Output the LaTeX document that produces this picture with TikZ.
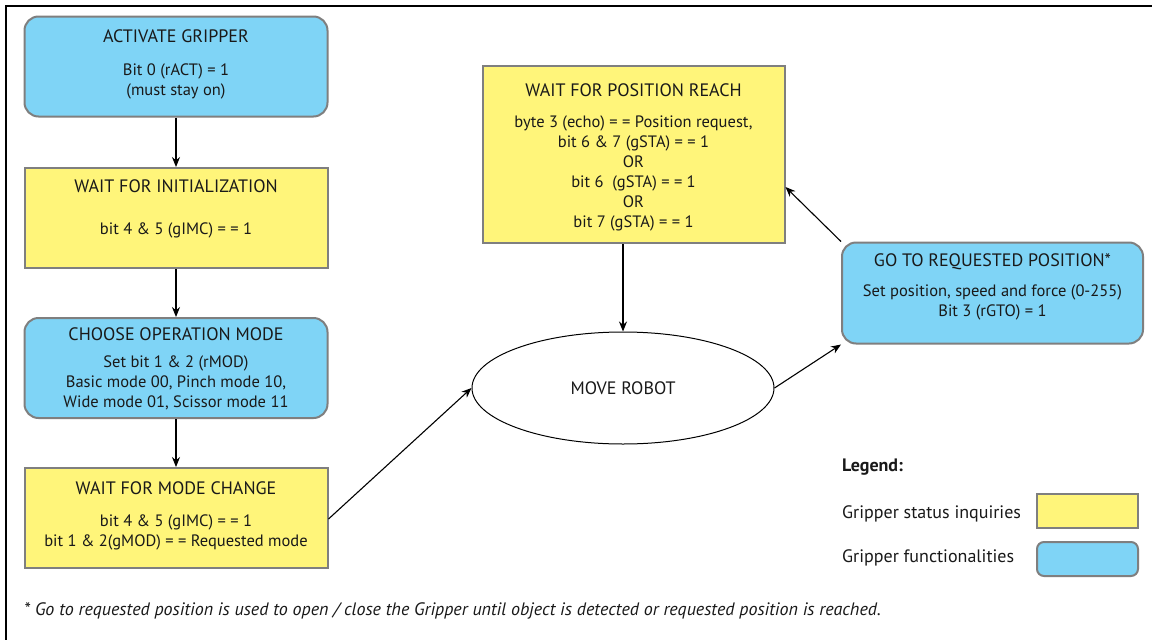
\documentclass[tikz,border=0pt]{standalone}
\usepackage{fontspec}
\setmainfont{PT Sans}
\usetikzlibrary{arrows.meta,shapes.geometric}
\definecolor{fblue}{HTML}{7FD4F6}
\definecolor{fyellow}{HTML}{FFF57A}
\definecolor{fgray}{HTML}{7F7F7F}
\tikzset{
  every node/.style={font=\fontsize{16.5}{20}\selectfont, text=black!90, inner sep=0pt},
  funcbox/.style={draw=fgray, line width=2pt, fill=fblue, rounded corners=14pt},
  statbox/.style={draw=fgray, line width=2pt, fill=fyellow},
  ttl/.style={anchor=center, font=\fontsize{18}{20}\selectfont},
  bdy/.style={align=center, anchor=center},
  conn/.style={line width=1.1pt, -{Stealth[length=10pt,width=8pt]}},
}
\begin{document}
\begin{tikzpicture}[x=1pt,y=-1pt]
\useasboundingbox (0,0) rectangle (1152,640);
\fill[white] (0,0) rectangle (1152,640);
\draw[line width=2pt] (6,640) -- (6,6) -- (1152,6);

% boxes
\node[funcbox, minimum width=303pt, minimum height=100pt] (act) at (176,66.5) {};
\node[statbox, minimum width=303pt, minimum height=100pt] (init) at (176,218) {};
\node[funcbox, minimum width=303pt, minimum height=100pt] (mode) at (176,368) {};
\node[statbox, minimum width=303pt, minimum height=100pt] (chg) at (176,518) {};
\node[statbox, minimum width=302pt, minimum height=177pt] (reach) at (633.5,154.5) {};
\node[funcbox, minimum width=301pt, minimum height=101pt] (goto) at (992.5,293) {};
\node[draw, line width=1pt, ellipse, minimum width=302pt, minimum height=112pt] (robot) at (623,388) {};

% texts
\node[ttl] (actT) at (176,36) {ACTIVATE GRIPPER};
\node[bdy] (actB) at (176,81) {Bit 0 (rACT) = 1\\(must stay on)};
\node[ttl] (initT) at (176,186) {WAIT FOR INITIALIZATION};
\node[bdy] (initB) at (176,230) {bit 4 \& 5 (gIMC) = = 1};
\node[ttl] (modeT) at (176,334) {CHOOSE OPERATION MODE};
\node[bdy] (modeB) at (176,383) {Set bit 1 \& 2 (rMOD)\\Basic mode 00, Pinch mode 10,\\Wide mode 01, Scissor mode 11};
\node[ttl] (chgT) at (176,488) {WAIT FOR MODE CHANGE};
\node[bdy] (chgB) at (176,532) {bit 4 \& 5 (gIMC) = = 1\\bit 1 \& 2(gMOD) = = Requested mode};
\node[ttl] (reachT) at (633.5,90) {WAIT FOR POSITION REACH};
\node[bdy] (reachB) at (633.5,173) {byte 3 (echo) = = Position request,\\bit 6 \& 7 (gSTA) = = 1\\OR\\bit 6\ \ (gSTA) = = 1\\OR\\bit 7 (gSTA) = = 1};
\node[ttl] (gotoT) at (992.5,262) {GO TO REQUESTED POSITION*};
\node[bdy] (gotoB) at (992.5,302.5) {Set position, speed and force (0-255)\\Bit 3 (rGTO) = 1};
\node[ttl] (robotT) at (623,388) {MOVE ROBOT};

% connectors
\draw[conn] (act.south) -- (init.north);
\draw[conn] (init.south) -- (mode.north);
\draw[conn] (mode.south) -- (chg.north);
\draw[conn] (chg.east) ++(0,1) coordinate (c1) (c1) -- (robot.west);
\draw[conn] (reach.south -| robot.north) -- (robot.north);
\draw[conn] (robot.east) -- (goto.south west);
\draw[conn] (goto.north west) -- (reach.east |- 0,187);

% legend
\node[anchor=west, font=\fontsize{18}{20}\selectfont\bfseries] (legT) at (842,467) {Legend:};
\node[anchor=west, font=\fontsize{18}{20}\selectfont] (leg1) at (842,514) {Gripper status inquiries};
\node[anchor=west, font=\fontsize{18}{20}\selectfont] (leg2) at (842,558) {Gripper functionalities};
\node[statbox, minimum width=101pt, minimum height=34pt] (leg1box) at (1087.5,510.5) {};
\node[funcbox, rounded corners=7pt, minimum width=101pt, minimum height=34pt] (leg2box) at (1087.5,559) {};

% footnote
\node[anchor=west, font=\fontsize{18}{20}\selectfont\itshape] (foot) at (24,611) {* Go to requested position is used to open / close the Gripper until object is detected or requested position is reached.};
\end{tikzpicture}
\end{document}
